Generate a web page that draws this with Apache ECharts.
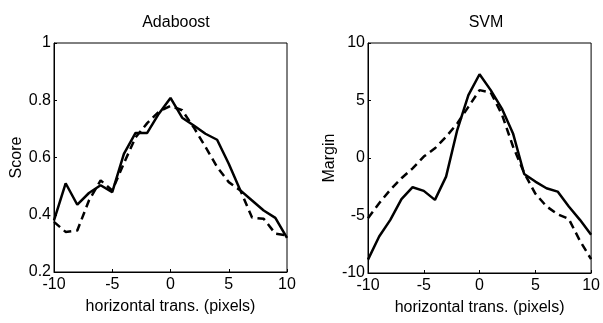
<!DOCTYPE html>
<html>
<head>
<meta charset="utf-8">
<script src="https://cdn.jsdelivr.net/npm/echarts@6/dist/echarts.min.js"></script>
<style>
  html, body { margin: 0; padding: 0; background: #fff; }
  #chart { width: 603px; height: 323px; }
</style>
</head>
<body>
<div id="chart"></div>
<script>
// horizontal translation in pixels
const shifts = [-10, -9, -8, -7, -6, -5, -4, -3, -2, -1, 0, 1, 2, 3, 4, 5, 6, 7, 8, 9, 10];

// Adaboost score
const adaSolid = [0.38, 0.51, 0.435, 0.476, 0.503, 0.479, 0.613, 0.686, 0.686, 0.753, 0.808,
  0.739, 0.712, 0.683, 0.662, 0.578, 0.485, 0.45, 0.415, 0.389, 0.319];
const adaDashed = [0.375, 0.34, 0.345, 0.45, 0.52, 0.485, 0.58, 0.67, 0.72, 0.76, 0.78,
  0.765, 0.705, 0.637, 0.567, 0.514, 0.485, 0.39, 0.386, 0.334, 0.328];

// SVM margin
const svmSolid = [-8.84, -6.82, -5.38, -3.58, -2.54, -2.86, -3.64, -1.62, 2.43, 5.46, 7.28,
  5.9, 4.3, 2.14, -1.39, -2.05, -2.63, -2.92, -4.22, -5.38, -6.68];
const svmDashed = [-5.23, -3.93, -2.77, -1.76, -0.9, 0.12, 0.84, 1.85, 3.0, 4.45, 5.9,
  5.7, 3.8, 1.0, -1.3, -3.1, -4.2, -4.9, -5.3, -7.2, -8.8];

const font = "'Liberation Sans', Arial, sans-serif";

const chart = echarts.init(document.getElementById("chart"));

function pairs(ys) {
  return shifts.map((x, i) => [x, ys[i]]);
}

function xAxisFor(idx) {
  return {
    type: "value",
    gridIndex: idx,
    min: -10,
    max: 10,
    interval: 5,
    name: "horizontal trans. (pixels)",
    nameLocation: "middle",
    nameGap: 27,
    nameTextStyle: { color: "#000", fontSize: 16, fontFamily: font },
    axisLine: { show: true, onZero: false, lineStyle: { color: "#000", width: 1 } },
    axisTick: { show: true, inside: true, length: 3, lineStyle: { color: "#000" } },
    axisLabel: { color: "#000", fontSize: 16, fontFamily: font, margin: 5 },
    splitLine: { show: false }
  };
}

function yAxisFor(idx, name, min, max, interval, fmt, gap) {
  return {
    type: "value",
    gridIndex: idx,
    min: min,
    max: max,
    interval: interval,
    name: name,
    nameLocation: "middle",
    nameGap: gap,
    nameTextStyle: { color: "#000", fontSize: 16, fontFamily: font },
    axisLine: { show: true, onZero: false, lineStyle: { color: "#000", width: 1 } },
    axisTick: { show: true, inside: true, length: 3, lineStyle: { color: "#000" } },
    axisLabel: { color: "#000", fontSize: 16, fontFamily: font, margin: 3, formatter: fmt },
    splitLine: { show: false }
  };
}

function line(idx, ys, dashed) {
  return {
    type: "line",
    xAxisIndex: idx,
    yAxisIndex: idx,
    data: pairs(ys),
    symbol: "none",
    silent: true,
    lineStyle: { color: "#000", width: 2.5, type: dashed ? [8, 5] : "solid" }
  };
}

const option = {
  animation: false,
  backgroundColor: "#fff",
  title: [
    { text: "Adaboost", left: 171, top: 10, textAlign: "center",
      textStyle: { color: "#000", fontSize: 16, fontWeight: "normal", fontFamily: font } },
    { text: "SVM", left: 481, top: 10, textAlign: "center",
      textStyle: { color: "#000", fontSize: 16, fontWeight: "normal", fontFamily: font } }
  ],
  grid: [
    { left: 54, top: 43, width: 233, height: 229, show: true, borderColor: "#000", borderWidth: 1 },
    { left: 368, top: 43, width: 227, height: 230, show: true, borderColor: "#000", borderWidth: 1 }
  ],
  xAxis: [xAxisFor(0), xAxisFor(1)],
  yAxis: [
    yAxisFor(0, "Score", 0.2, 1, 0.2, v => (v === 1 ? "1" : v.toFixed(1)), 26),
    yAxisFor(1, "Margin", -10, 10, 5, v => String(v), 30)
  ],
  series: [
    line(0, adaSolid, false),
    line(0, adaDashed, true),
    line(1, svmSolid, false),
    line(1, svmDashed, true)
  ]
};

chart.setOption(option);
</script>
</body>
</html>
